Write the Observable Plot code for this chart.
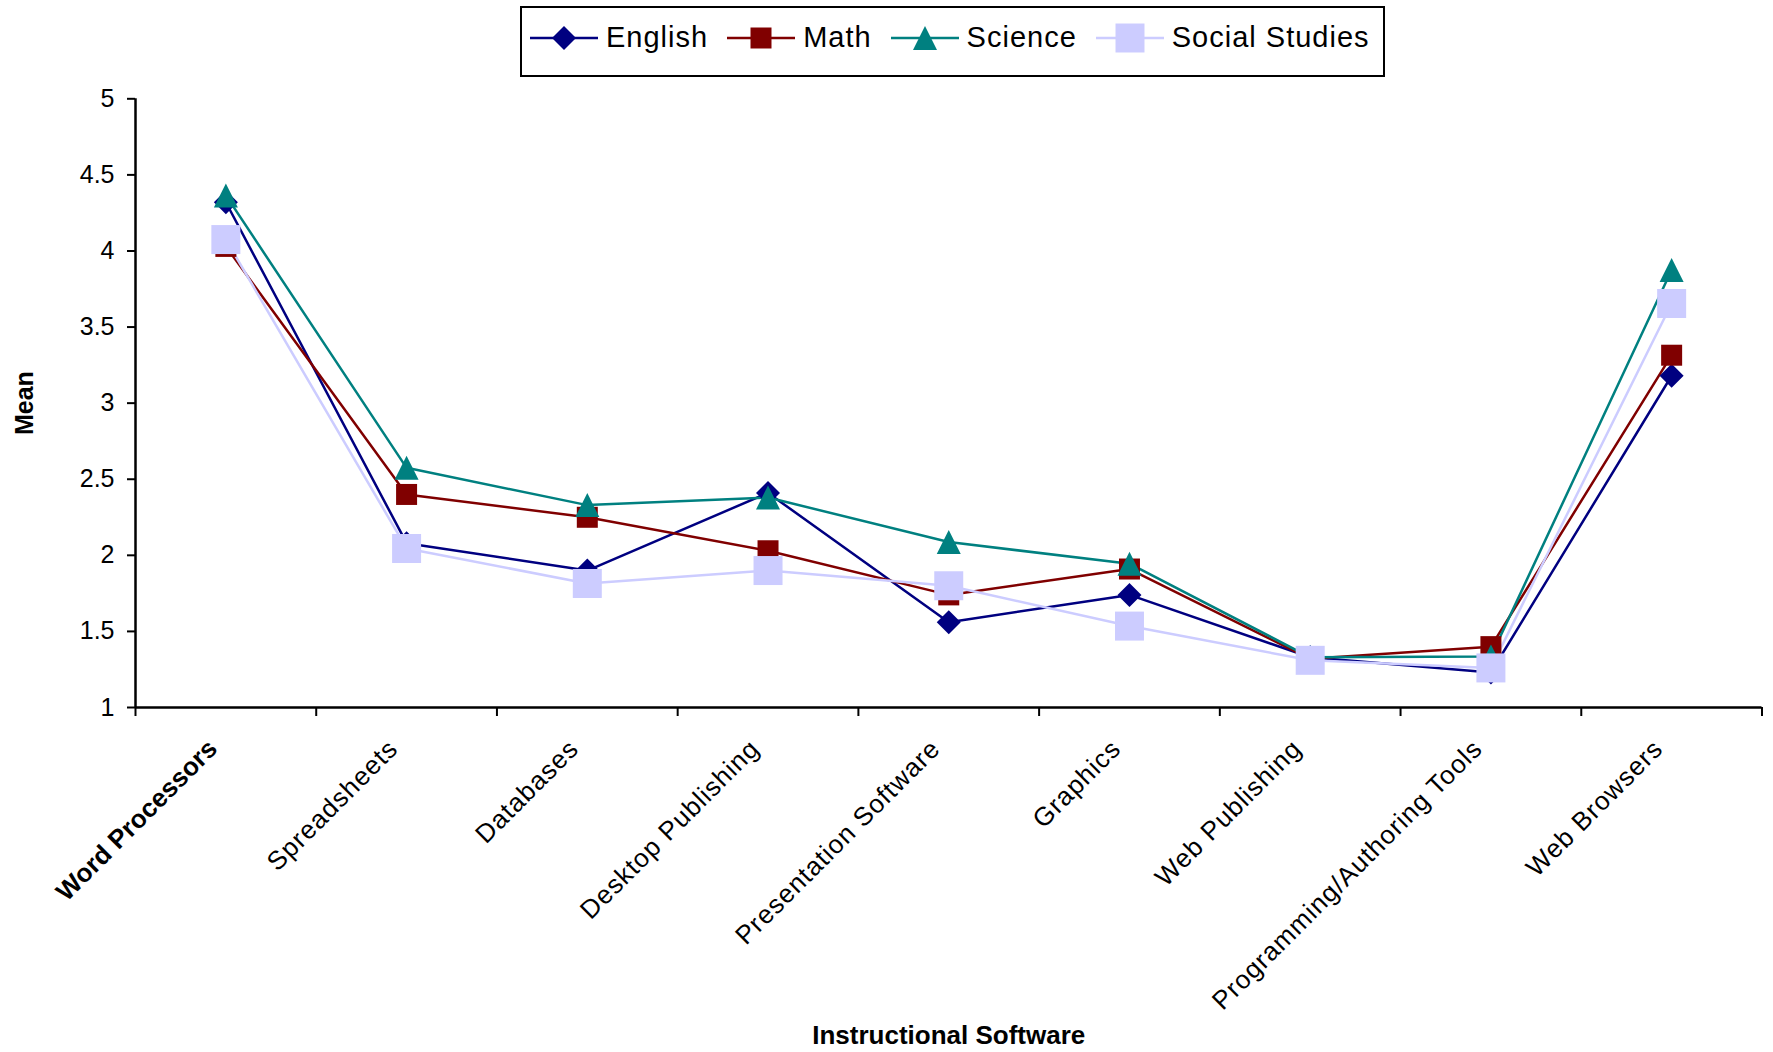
<!DOCTYPE html>
<html>
<head>
<meta charset="utf-8">
<script src="https://cdn.jsdelivr.net/npm/d3@7"></script>
<script src="https://cdn.jsdelivr.net/npm/@observablehq/plot@0.6"></script>
<style>
  html, body { margin: 0; padding: 0; background: #fff; }
  body { width: 1773px; height: 1052px; overflow: hidden; font-family: "Liberation Sans", Arial, sans-serif; }
  #legend { position: relative; height: 84px; }
  #legend .box {
    position: absolute; left: 520px; top: 6px; width: 865px; height: 71px;
    box-sizing: border-box; border: 2px solid #000;
    display: flex; align-items: center; padding: 0 0 8px 8px; gap: 19px;
  }
  #legend .item { display: flex; align-items: center; gap: 8px; font-size: 29px; letter-spacing: 1px; color: #000; white-space: nowrap; }
  #legend .item svg { display: block; }
  #chart svg { display: block; }
</style>
</head>
<body>
<div id="legend"><div class="box"></div></div>
<div id="chart"></div>
<script>
// Mean ratings of instructional software use, by subject area
const categories = [
  "Word Processors", "Spreadsheets", "Databases", "Desktop Publishing",
  "Presentation Software", "Graphics", "Web Publishing",
  "Programming/Authoring Tools", "Web Browsers"
];
const subjects = ["English", "Math", "Science", "Social Studies"];
const english       = [4.32, 2.08, 1.90, 2.41, 1.56, 1.74, 1.33, 1.23, 3.18];
const math          = [4.03, 2.40, 2.25, 2.03, 1.74, 1.91, 1.32, 1.40, 3.315];
const science       = [4.365, 2.575, 2.33, 2.38, 2.087, 1.945, 1.33, 1.335, 3.875];
const socialStudies = [4.075, 2.045, 1.815, 1.90, 1.80, 1.535, 1.31, 1.26, 3.655];
const yTicks = [1, 1.5, 2, 2.5, 3, 3.5, 4, 4.5, 5];

const seriesValues = [english, math, science, socialStudies];
const colors = ["#000080", "#800000", "#008080", "#CCCCFF"];

// Marker shapes, sized so that r is the half-extent of the glyph
const shape = (pts) => ({
  draw(ctx, size) {
    const r = Math.sqrt(size / Math.PI);
    pts.forEach(([a, b], j) => j ? ctx.lineTo(a * r, b * r) : ctx.moveTo(a * r, b * r));
    ctx.closePath();
  }
});
const diamond = shape([[0, -1], [1, 0], [0, 1], [-1, 0]]);
const square = shape([[-1, -1], [1, -1], [1, 1], [-1, 1]]);
const triangle = shape([[0, -1], [1, 1], [-1, 1]]);
const markers = [diamond, square, triangle, square];
const markerR = [12, 10.5, 12, 14.5];

const rows = subjects.flatMap((s, k) =>
  seriesValues[k].map((value, i) => ({subject: s, i, value}))
);

// Legend
const box = d3.select("#legend .box");
subjects.forEach((s, k) => {
  const item = box.append("div").attr("class", "item");
  const sw = item.append("svg").attr("width", 68).attr("height", 32);
  sw.append("line").attr("x1", 0).attr("x2", 68).attr("y1", 16).attr("y2", 16)
    .attr("stroke", colors[k]).attr("stroke-width", 2.5);
  sw.append("path")
    .attr("transform", "translate(34,16)")
    .attr("d", d3.symbol(markers[k], Math.PI * markerR[k] * markerR[k])())
    .attr("fill", colors[k]);
  item.append("span").text(s);
});

const font = "Liberation Sans, Arial, sans-serif";
const boundaries = d3.range(-0.5, categories.length, 1);

const chart = Plot.plot({
  width: 1773,
  height: 968,
  marginTop: 14.3,
  marginBottom: 345,
  marginLeft: 135,
  marginRight: 11.5,
  style: {fontFamily: font, background: "white", color: "#000", overflow: "visible"},
  x: {type: "linear", domain: [-0.5, categories.length - 0.5]},
  y: {domain: [1, 5]},
  color: {domain: subjects, range: colors},
  marks: [
    // y axis: ticks and labels
    Plot.axisY({ticks: yTicks, tickFormat: (d) => String(d), tickSize: 8, tickPadding: 13,
      strokeWidth: 2, fontSize: 25, label: null}),
    // x axis: tick marks between categories
    Plot.axisX({ticks: boundaries, tickFormat: () => "", tickSize: 9, strokeWidth: 2, label: null}),
    // x axis: category labels
    Plot.axisX({ticks: [0], tickFormat: (i) => categories[i], tickSize: 0, tickPadding: 37,
      tickRotate: -45, dx: -13, fontSize: 26, fontWeight: "bold", label: null}),
    Plot.axisX({ticks: d3.range(1, categories.length), tickFormat: (i) => categories[i], tickSize: 0,
      tickPadding: 37, tickRotate: -45, dx: -13, fontSize: 26, label: null}),
    // axis lines
    Plot.ruleY([1], {strokeWidth: 2.5}),
    Plot.ruleX([-0.5], {strokeWidth: 2.5}),
    // series lines
    Plot.line(rows, {x: "i", y: "value", z: "subject", stroke: "subject", strokeWidth: 2.5}),
    // series markers
    ...subjects.map((s, k) =>
      Plot.dot(rows.filter((d) => d.subject === s), {
        x: "i", y: "value", fill: "subject", symbol: markers[k], r: markerR[k], stroke: "none"
      })
    ),
    // axis titles
    Plot.text(["Instructional Software"], {frameAnchor: "bottom", textAnchor: "middle", lineAnchor: "middle",
      dy: 328, fontSize: 26, fontWeight: "bold"}),
    Plot.text(["Mean"], {frameAnchor: "left", textAnchor: "middle", lineAnchor: "middle",
      rotate: -90, dx: -111, fontSize: 25, fontWeight: "bold"})
  ]
});

d3.select(chart).selectAll('g[aria-label="x-axis tick label"]')
  .filter(function () { return this.getAttribute("font-weight") !== "bold"; })
  .selectAll("text").style("letter-spacing", "1px");

document.getElementById("chart").appendChild(chart);
</script>
</body>
</html>
